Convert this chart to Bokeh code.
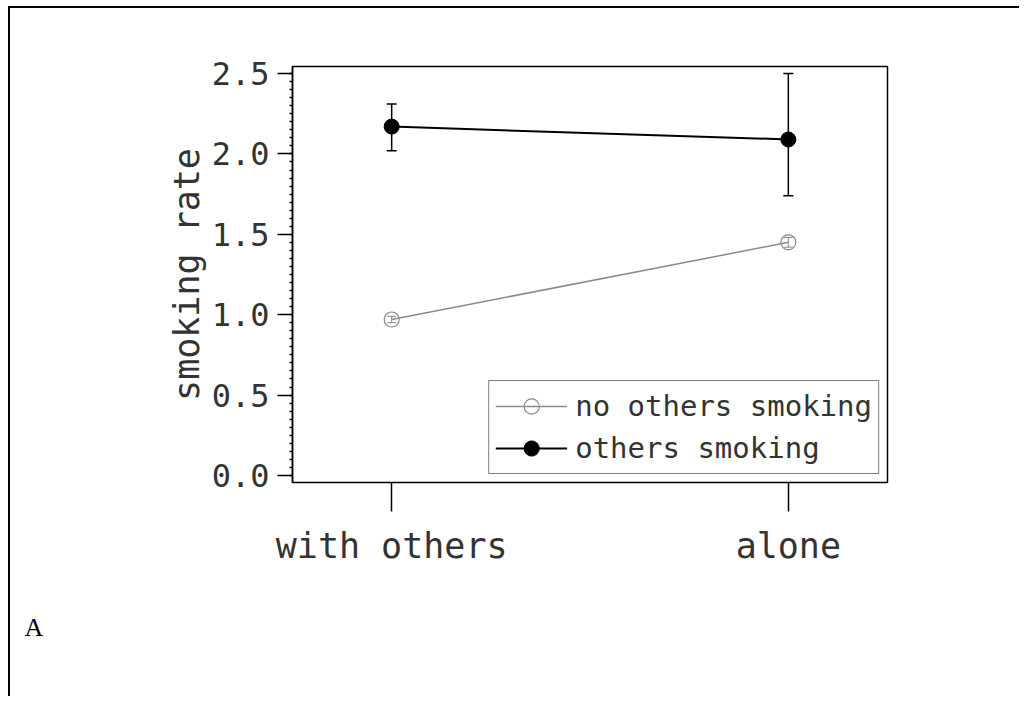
from bokeh.plotting import figure
from bokeh.models import (ColumnDataSource, Whisker, TeeHead, FixedTicker, Legend,
                          LegendItem, Title, NumeralTickFormatter, Range1d)
from bokeh.embed import file_html
from bokeh.resources import INLINE
import numpy as np

# ---- data ----
categories = ["with others", "alone"]
no_others_mean = [0.97, 1.45]
no_others_lower = [0.95, 1.42]
no_others_upper = [0.99, 1.48]
others_mean = [2.17, 2.09]
others_lower = [2.02, 1.74]
others_upper = [2.31, 2.50]
y_ticks = [0.0, 0.5, 1.0, 1.5, 2.0, 2.5]
series_labels = ["no others smoking", "others smoking"]
y_label = "smoking rate"
panel_letter = "A"

xpos = list(range(len(categories)))

FONT = "DejaVu Sans Mono"
TXT = "#333333"
GRAY = "#8a8a8a"

p = figure(width=1011, height=690, output_backend="svg", toolbar_location=None,
           x_range=Range1d(-0.25, 1.25), y_range=Range1d(-0.044, 2.544),
           min_border_left=282, min_border_right=134, min_border_top=58,
           min_border_bottom=216)
p.styles = {"border-top": "2px solid black", "border-left": "2px solid black",
            "margin-left": "8px", "margin-top": "6px"}
p.grid.visible = False
p.outline_line_color = "black"
p.outline_line_width = 1.5
p.background_fill_color = "white"
p.border_fill_color = "white"

src_no = ColumnDataSource(dict(x=xpos, y=no_others_mean, lo=no_others_lower, hi=no_others_upper))
src_o = ColumnDataSource(dict(x=xpos, y=others_mean, lo=others_lower, hi=others_upper))

gray_line = p.line("x", "y", source=src_no, line_color=GRAY, line_width=1.5)
black_line = p.line("x", "y", source=src_o, line_color="black", line_width=2)

p.add_layout(Whisker(source=src_no, base="x", upper="hi", lower="lo", line_color=GRAY, line_width=1,
                     upper_head=TeeHead(size=9, line_color=GRAY, line_width=1),
                     lower_head=TeeHead(size=9, line_color=GRAY, line_width=1)))
p.add_layout(Whisker(source=src_o, base="x", upper="hi", lower="lo", line_color="black", line_width=1.5,
                     upper_head=TeeHead(size=10, line_color="black", line_width=1.5),
                     lower_head=TeeHead(size=10, line_color="black", line_width=1.5)))

gray_pts = p.scatter("x", "y", source=src_no, marker="circle", size=15, fill_color=None,
                     line_color=GRAY, line_width=1.2)
black_pts = p.scatter("x", "y", source=src_o, marker="circle", size=15, fill_color="black",
                      line_color="black")

# axes
p.xaxis.ticker = FixedTicker(ticks=xpos)
p.xaxis.major_label_overrides = {i: c for i, c in zip(xpos, categories)}
p.xaxis.axis_line_color = None
p.xaxis.major_tick_out = 29
p.xaxis.major_tick_in = 0
p.xaxis.major_tick_line_width = 1.5
p.xaxis.minor_tick_line_color = None
p.xaxis.major_label_standoff = 14

minor = [round(v, 3) for v in np.arange(0, 2.5001, 0.05)]
p.yaxis.ticker = FixedTicker(ticks=y_ticks, minor_ticks=minor)
p.yaxis.formatter = NumeralTickFormatter(format="0.0")
p.yaxis.axis_line_color = "black"
p.yaxis.axis_line_width = 1.5
p.yaxis.major_tick_out = 15
p.yaxis.major_tick_in = 0
p.yaxis.major_tick_line_width = 1.5
p.yaxis.minor_tick_out = 3
p.yaxis.minor_tick_in = 0
p.yaxis.minor_tick_line_width = 1.5
p.yaxis.major_label_standoff = 8
p.yaxis.axis_label = y_label
p.yaxis.axis_label_standoff = 2

for ax in (p.xaxis, p.yaxis):
    ax.major_label_text_font = FONT
    ax.major_label_text_color = TXT
    ax.axis_label_text_font = FONT
    ax.axis_label_text_font_size = "35px"
    ax.axis_label_text_font_style = "normal"
    ax.axis_label_text_color = TXT
p.xaxis.major_label_text_font_size = "35px"
p.yaxis.major_label_text_font_size = "32px"

legend = Legend(items=[LegendItem(label=series_labels[0], renderers=[gray_line, gray_pts]),
                       LegendItem(label=series_labels[1], renderers=[black_line, black_pts])],
                location="bottom_right", orientation="vertical")
legend.label_text_font = FONT
legend.label_text_font_size = "29px"
legend.label_text_color = TXT
legend.glyph_width = 72
legend.glyph_height = 38
legend.label_height = 38
legend.label_standoff = 8
legend.padding = 6
legend.spacing = 4
legend.margin = 8
legend.border_line_color = "black"
legend.border_line_width = 1.5
legend.background_fill_alpha = 1
p.add_layout(legend)

p.add_layout(Title(text=panel_letter, align="left", offset=-268, standoff=85,
                   text_font="Liberation Serif", text_font_size="26px",
                   text_font_style="normal", text_color="black"), "below")

open("out.html", "w").write(file_html(p, INLINE))
